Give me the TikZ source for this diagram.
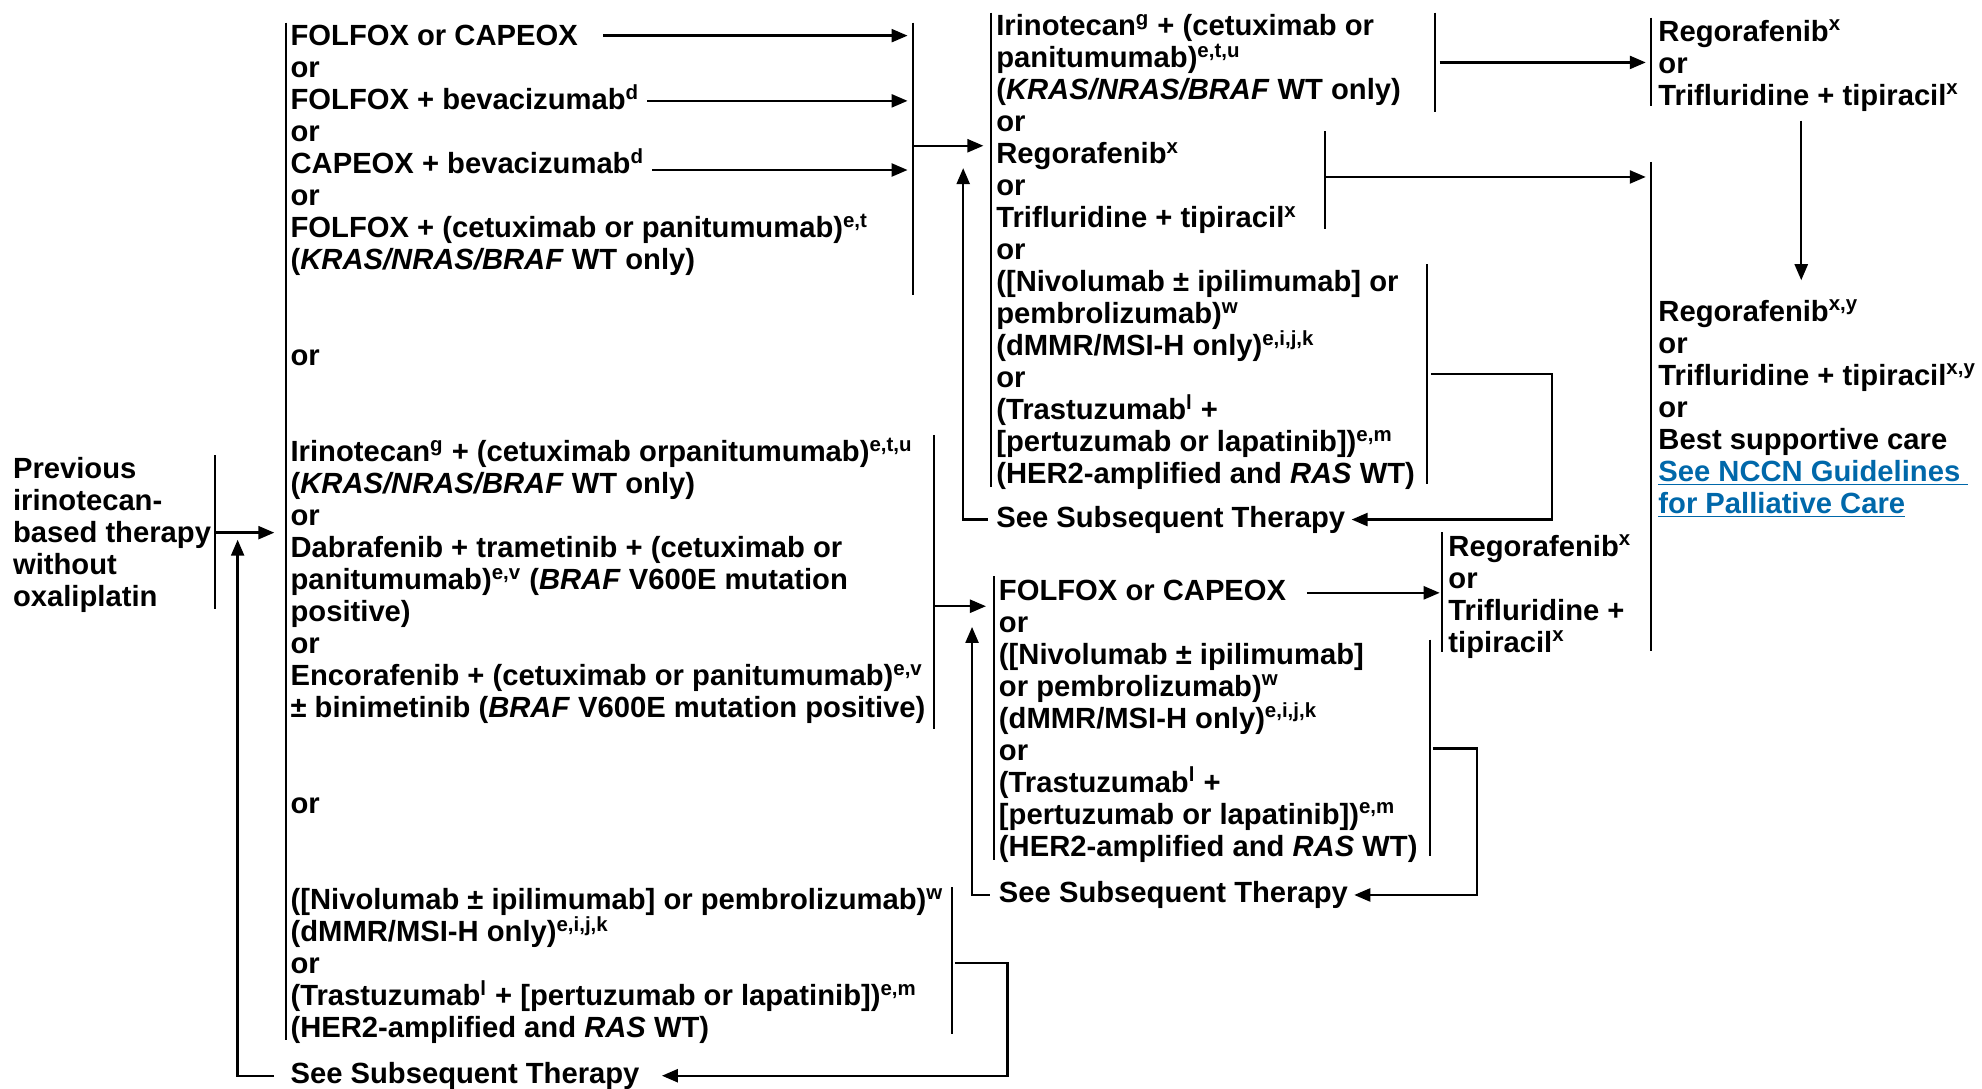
\documentclass[tikz,border=0pt]{standalone}
\usepackage{fontspec}
\setmainfont{Liberation Sans}
\usetikzlibrary{arrows.meta}
\definecolor{nccnblue}{RGB}{0,104,170}
\newcommand{\sups}[1]{\textsuperscript{#1}}

\begin{document}
\begin{tikzpicture}[x=0.632pt, y=-0.632pt,
    txt/.style={anchor=base west, align=left, inner sep=0pt,
        font=\fontsize{14.6}{16}\selectfont\bfseries},
    bar/.style={line width=1pt},
    arr/.style={line width=1.2pt, -{Triangle[length=8pt, width=6.5pt]}}]
    \useasboundingbox (0,0) rectangle (1568,861);
    % starting point (placed by the baseline of its last line)
    \node[txt] (prev) at (10,479.9) {Previous\\irinotecan-\\based therapy\\without\\oxaliplatin};
    % first column
    \node[txt] (folcap) at (229.6,36.2) {FOLFOX or CAPEOX};
    \node[txt] (or1) at (229.6,61.5) {or};
    \node[txt] (folbev) at (229.6,86.8) {FOLFOX + bevacizumab\sups{d}};
    \node[txt] (or2) at (229.6,112.2) {or};
    \node[txt] (capbev) at (229.6,137.5) {CAPEOX + bevacizumab\sups{d}};
    \node[txt] (or3) at (229.6,162.8) {or};
    \node[txt] (folcet) at (229.6,213.4) {FOLFOX + (cetuximab or panitumumab)\sups{e,t}\\(\textit{KRAS/NRAS/BRAF} WT only)};
    \node[txt] (or4) at (229.6,289.4) {or};
    \node[txt] (irino) at (229.6,568.0) {Irinotecan\sups{g} + (cetuximab orpanitumumab)\sups{e,t,u}\\(\textit{KRAS/NRAS/BRAF} WT only)\\or\\Dabrafenib + trametinib + (cetuximab or\\panitumumab)\sups{e,v} (\textit{BRAF} V600E mutation\\positive)\\or\\Encorafenib + (cetuximab or panitumumab)\sups{e,v}\\± binimetinib (\textit{BRAF} V600E mutation positive)};
    \node[txt] (or5) at (229.6,643.9) {or};
    \node[txt] (nivo) at (229.6,821.1) {([Nivolumab ± ipilimumab] or pembrolizumab)\sups{w}\\(dMMR/MSI-H only)\sups{e,i,j,k}\\or\\(Trastuzumab\sups{l} + [pertuzumab or lapatinib])\sups{e,m}\\(HER2-amplified and \textit{RAS} WT)};
    \node[txt] (subs1) at (229.6,857) {See Subsequent Therapy};
    % second column, top
    \node[txt] (irino2) at (787.9,78.8) {Irinotecan\sups{g} + (cetuximab or\\panitumumab)\sups{e,t,u}\\(\textit{KRAS/NRAS/BRAF} WT only)};
    \node[txt] (or6) at (787.9,104.2) {or};
    \node[txt] (rego2) at (787.9,180.1) {Regorafenib\sups{x}\\or\\Trifluridine + tipiracil\sups{x}};
    \node[txt] (or7) at (787.9,205.5) {or};
    \node[txt] (nivo2) at (787.9,382.7) {([Nivolumab ± ipilimumab] or\\pembrolizumab)\sups{w}\\(dMMR/MSI-H only)\sups{e,i,j,k}\\or\\(Trastuzumab\sups{l} +\\{}[pertuzumab or lapatinib])\sups{e,m}\\(HER2-amplified and \textit{RAS} WT)};
    \node[txt] (subs2) at (787.9,417) {See Subsequent Therapy};
    % second column, bottom
    \node[txt] (folcap3) at (790,475) {FOLFOX or CAPEOX};
    \node[txt] (or8) at (790,500.3) {or};
    \node[txt] (nivo3) at (790,677.5) {([Nivolumab ± ipilimumab]\\or pembrolizumab)\sups{w}\\(dMMR/MSI-H only)\sups{e,i,j,k}\\or\\(Trastuzumab\sups{l} +\\{}[pertuzumab or lapatinib])\sups{e,m}\\(HER2-amplified and \textit{RAS} WT)};
    \node[txt] (subs3) at (790,714) {See Subsequent Therapy};
    % third column
    \node[txt] (rego3) at (1145.6,516.0) {Regorafenib\sups{x}\\or\\Trifluridine +\\tipiracil\sups{x}};
    % last column
    \node[txt] (rego4) at (1311.7,83.1) {Regorafenib\sups{x}\\or\\Trifluridine + tipiracil\sups{x}};
    \node[txt] (last) at (1311.7,405.9) {Regorafenib\sups{x,y}\\or\\Trifluridine + tipiracil\sups{x,y}\\or\\Best supportive care\\\textcolor{nccnblue}{\underline{See NCCN Guidelines\ }}\\\textcolor{nccnblue}{\underline{for Palliative Care}}};

    % bars
    \draw[bar] (170,360) -- (170,482);
    \draw[bar] (226,18) -- (226,823);
    \draw[bar] (722,18) -- (722,233);
    \draw[bar] (739,344) -- (739,577);
    \draw[bar] (753,702) -- (753,818);
    \draw[bar] (784,10) -- (784,385);
    \draw[bar] (1135,10) -- (1135,89);
    \draw[bar] (1048,104) -- (1048,181);
    \draw[bar] (1129,209) -- (1129,383);
    \draw[bar] (786,456) -- (786,680);
    \draw[bar] (1131,506) -- (1131,677);
    \draw[bar] (1141,421) -- (1141,516);
    \draw[bar] (1306,14) -- (1306,84);
    \draw[bar] (1306,128) -- (1306,515);

    % arrow targets on the bars
    \coordinate (bar2) at (718,0);
    \coordinate (bar3) at (1139,0);
    \coordinate (folcapR) at ([shift={(20,-8)}]folcap.base east);
    \coordinate (folbevR) at ([shift={(6,-7)}]folbev.base east);
    \coordinate (capbevR) at ([shift={(6,-3)}]capbev.base east);
    \coordinate (folcap3R) at ([shift={(16,-6)}]folcap3.base east);

    % previous therapy to first column
    \draw[arr] (170,421.4) -- (217,421.4);
    \draw[arr] ([xshift=-8pt]subs1.west) -| (188,427);
    % first column to second column
    \draw[arr] (folcapR) -- (folcapR -| bar2);
    \draw[arr] (folbevR) -- (folbevR -| bar2);
    \draw[arr] (capbevR) -- (capbevR -| bar2);
    \draw[arr] (722,115.3) -- (778,115.3);
    \draw[arr] (739,479.6) -- (780,479.6);
    \draw[arr] (755.5,762) -- (797,762) |- ([xshift=11pt]subs1.east);
    % second column, top
    \draw[arr] ([xshift=-4pt]subs2.west) -| (762,133);
    \draw[arr] (1139,49.4) -- (1302,49.4);
    \draw[arr] (1048,140) -- (1302,140);
    \draw[arr] (1132,296) -- (1227.6,296) |- ([xshift=3pt]subs2.east);
    % second column, bottom
    \draw[arr] ([xshift=-4.5pt]subs3.west) -| (769,496);
    \draw[arr] (folcap3R) -- (folcap3R -| bar3);
    \draw[arr] (1133.6,592) -- (1168.6,592) |- ([xshift=3pt]subs3.east);
    % last column
    \draw[arr] (1425,95.5) -- (1425,221.7);
\end{tikzpicture}
\end{document}
